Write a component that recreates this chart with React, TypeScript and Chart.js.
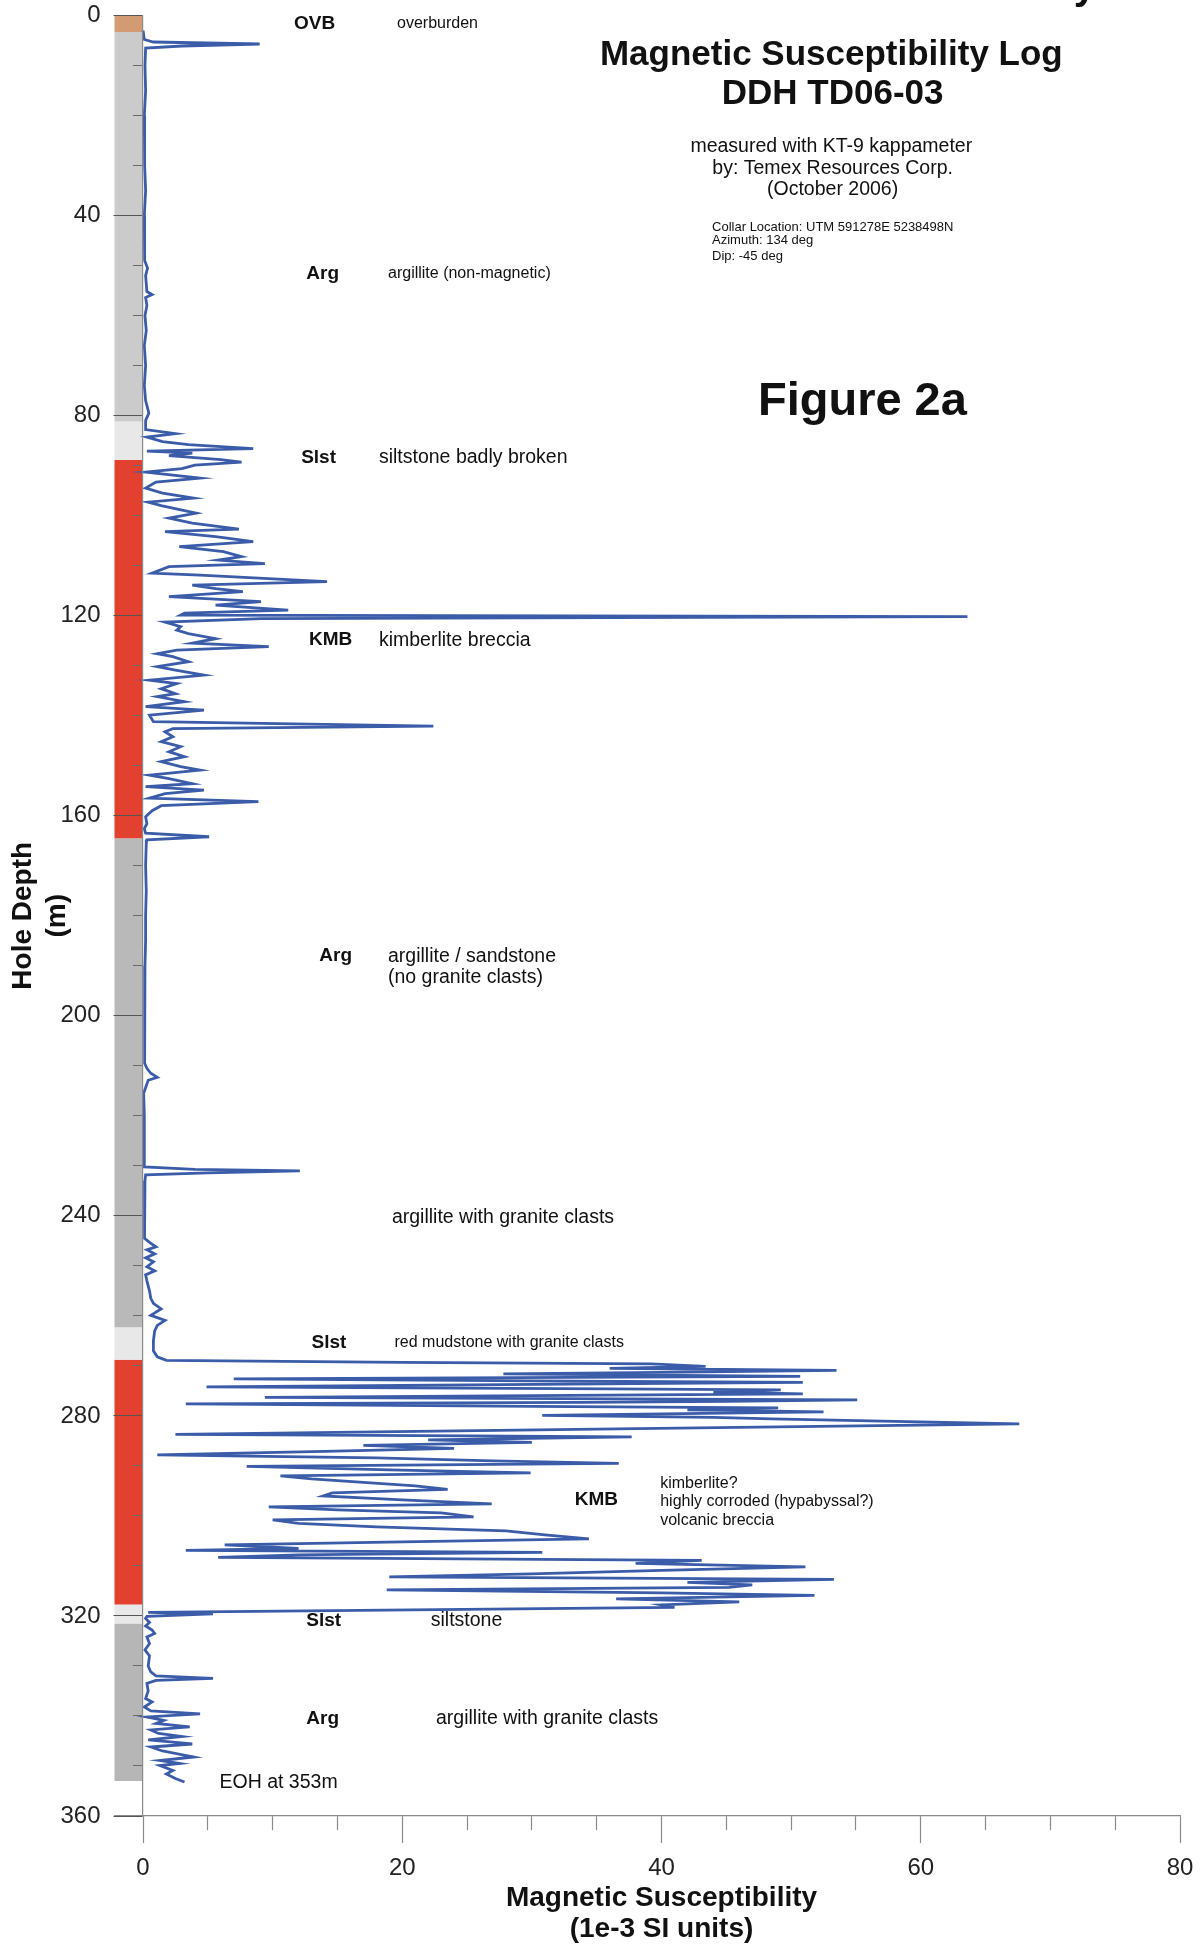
import React, { useEffect, useRef } from 'react';
import { Chart, registerables } from 'chart.js';

Chart.register(...registerables);

const FONT = "'Liberation Sans', Arial, Helvetica, sans-serif";

// ---- Magnetic susceptibility log (depth in m, value in 1e-3 SI) ----
const depthM: number[] = [
  3.0, 4.8, 5.3, 5.7, 6.1, 6.5, 10, 15, 20, 25, 30, 35, 40, 45, 49, 50.5, 52, 55.2, 55.8, 56.4,
  58, 60, 63, 66, 70, 74, 77, 79.5, 81, 82.8,
  83.6, 84.3, 85.2, 85.8, 86.6, 87.1, 87.5, 88.0, 88.8, 89.3, 89.9, 90.6, 91.3, 92.5, 93.3, 94.5,
  95.5, 96.5, 97.3, 98.0, 99.5, 100.5, 101.5, 102.7, 103.2, 104.2, 105.2, 106.2, 107.2, 108.2,
  108.9, 109.6, 110.2, 111.5, 111.9, 113.2, 113.9, 114.6, 115.2, 116.2, 117.2, 117.9, 118.9,
  119.5, 119.9, 120.2, 120.6, 121.3, 122.2, 122.9, 123.6, 124.6, 125.5, 126.2, 126.9, 127.6,
  128.2, 129.2, 130.2, 130.9, 131.9, 132.9, 133.6, 134.6, 135.6, 136.2, 137.2, 138.2, 138.9,
  139.9, 141.2, 142.1, 142.6, 143.2, 144.2, 145.2, 146.2, 147.2, 148.2, 149.2, 150.2, 150.9,
  151.9, 152.6, 153.6, 154.2, 154.9, 155.6, 156.5, 157.2, 158.0, 159.0, 160.2, 161.6, 162.6,
  163.5, 164.2, 164.8,
  165.5, 170, 175, 180, 185, 190, 195, 200, 205, 209.5, 210.5, 211.5, 212.3, 212.9, 214, 215.5,
  220, 225, 230.2, 230.7, 231.0, 231.4, 231.8, 233, 236, 240, 244.5, 245.3, 246.2, 246.8, 247.6,
  248.4, 249.2, 250.2, 251, 251.8, 253, 255, 256.5, 257.5, 258.6, 259.9, 260.9, 261.9, 263, 265,
  267, 268.2, 268.9,
  269.3, 269.6, 270.1, 270.5, 270.9, 271.3, 271.6, 272.1, 272.6, 273.0, 273.3, 273.9, 274.2,
  274.6, 274.8, 275.2, 275.6, 276.3, 276.8, 277.1, 277.3, 277.6, 278.1, 278.4, 278.8, 279.2,
  279.9, 280.3, 280.6, 281.1, 281.6, 283.7, 284.0, 284.2, 284.8, 285.3, 285.9,
  286.5, 287.1, 287.8, 288.4, 289.0, 289.5, 290.1, 290.8, 291.4, 292.0, 292.6, 293.3, 294.0,
  294.7, 295.4, 296.0, 296.8, 297.6, 298.2, 298.8, 299.4, 300.2, 300.8, 301.5, 302.2, 303.0,
  303.8, 304.6, 305.2, 305.8, 306.5, 306.9, 307.3, 307.8, 308.3, 308.9, 309.5, 310.2, 310.9,
  311.6, 312.2, 312.7, 313.3, 313.8, 314.3, 314.8, 315.4, 315.9, 316.6, 317.2, 317.8, 318.3,
  319.3, 319.6, 320.1,
  320.5, 321.3, 322.0, 322.8, 323.5, 324.2, 325.5, 326.8, 328.0, 330.0, 331.2, 332.0, 332.5,
  332.9, 333.5, 335.0, 336.5, 337.2, 338.2, 339.0, 339.6, 340.2, 340.9, 341.5, 342.2, 342.8,
  343.5, 344.1, 344.8, 345.6, 346.2, 347.0, 348.2, 348.9, 349.5, 349.9, 350.9, 351.6, 352.5, 353.2,
];

const susceptibility: number[] = [
  0.0, 0.1, 0.8, 9.0, 3.0, 0.2, 0.15, 0.2, 0.1, 0.15, 0.1, 0.2, 0.1, 0.15, 0.1, 0.35, 0.2, 0.3, 0.7, 0.2,
  0.3, 0.15, 0.25, 0.1, 0.2, 0.1, 0.2, 0.45, 0.2, 0.2,
  2.5, 0.3, 1.5, 3.5, 8.5, 0.3, 3.8, 2.0, 6.0, 7.6, 4.0, 3.0, 0.2, 4.4, 1.0, 0.2,
  1.5, 3.9, 0.4, 1.4, 4.1, 2.0, 3.8, 7.4, 1.7, 5.6, 8.5, 2.8, 6.2, 7.6,
  5.8, 9.4, 2.0, 0.7, 4.4, 14.2, 3.8, 5.6, 7.7, 2.0, 9.1, 5.6, 11.2,
  3.2, 2.9, 63.6, 9.1, 1.7, 2.9, 2.6, 3.5, 5.6, 3.8, 9.7, 2.6, 1.1,
  2.3, 3.5, 1.1, 2.5, 4.7, 0.5, 2.6, 1.4, 2.5, 1.1, 3.2, 0.2, 4.7,
  0.5, 0.8, 22.4, 2.3, 1.7, 2.3, 1.4, 2.9, 2.0, 3.2, 1.4, 2.9, 4.4,
  0.5, 2.0, 3.8, 0.2, 4.7, 1.7, 0.5, 8.9, 1.4, 0.7, 0.2, 0.3, 0.1,
  0.2, 5.1, 0.3,
  0.25, 0.2, 0.25, 0.2, 0.2, 0.15, 0.15, 0.1, 0.15, 0.1, 0.3, 0.6, 1.1, 0.4, 0.25, 0.05,
  0.1, 0.1, 0.1, 4.0, 12.1, 5.0, 0.2, 0.15, 0.1, 0.15, 0.1, 0.5, 1.0, 0.3, 0.9,
  0.2, 0.8, 0.3, 0.9, 0.2, 0.3, 0.5, 0.6, 0.8, 1.4, 0.6, 1.7, 1.1, 0.9, 0.8,
  0.8, 1.1, 1.8,
  20.0, 39.2, 43.4, 36.0, 53.5, 40.0, 27.8, 50.7, 7.0, 30.0, 50.9, 20.0, 4.9,
  36.0, 49.2, 44.0, 50.9, 9.4, 55.1, 45.0, 33.9, 3.3, 30.0, 49.0, 42.0, 52.5,
  30.8, 44.0, 48.5, 58.0, 67.6, 2.5, 25.0, 37.7, 22.0, 30.0, 17.0,
  24.0, 14.0, 1.1, 18.0, 27.0, 36.7, 8.0, 19.0, 29.9, 10.6, 13.0, 17.0, 21.0,
  23.5, 14.6, 13.9, 20.0, 26.9, 9.7, 15.0, 23.0, 25.5, 10.0, 12.0, 18.0, 28.0,
  31.0, 34.4, 20.0, 6.3, 12.0, 3.3, 30.8, 12.0, 5.8, 43.1, 38.0, 51.1, 40.0,
  30.0, 19.0, 53.3, 42.0, 47.0, 45.2, 18.8, 40.0, 51.8, 36.5, 46.0, 40.0, 41.0,
  0.4, 5.4, 0.3,
  0.2, 0.5, 0.2, 0.7, 0.9, 0.3, 0.5, 0.15, 0.5, 0.4, 0.6, 1.0, 5.4,
  1.0, 0.3, 0.4, 0.2, 0.7, 0.1, 0.6, 4.4, 0.3, 1.6, 1.0, 3.6, 0.6,
  1.2, 3.0, 0.4, 3.8, 0.6, 1.5, 3.9, 1.3, 2.8, 1.3, 2.3, 1.8, 2.5, 3.2,
];

// ---- Lithology column ----
const unitCodes: string[] = ['OVB', 'Arg', 'Slst', 'KMB', 'Arg', 'Slst', 'KMB', 'Slst', 'Arg'];
const unitTop: number[] = [0, 3.3, 81.2, 88.9, 164.5, 262.3, 268.8, 317.7, 321.5];
const unitBottom: number[] = [3.3, 81.2, 88.9, 164.5, 262.3, 268.8, 317.7, 321.5, 353];

// ---- Axis ticks ----
const xTickValues: number[] = [0, 5, 10, 15, 20, 25, 30, 35, 40, 45, 50, 55, 60, 65, 70, 75, 80];
const xLabelValues: number[] = [0, 20, 40, 60, 80];
const yLabelValues: number[] = [0, 40, 80, 120, 160, 200, 240, 280, 320, 360];
const yMinorTickValues: number[] = [
  0, 10, 20, 30, 40, 50, 60, 70, 80, 90, 100, 110, 120, 130, 140, 150, 160, 170, 180, 190,
  200, 210, 220, 230, 240, 250, 260, 270, 280, 290, 300, 310, 320, 330, 340, 350, 360,
];

// ---- styles (kept apart from data) ----
const columnLeft = -2.2;
const columnFill: string[] = [
  '#d29b74', '#cbcbcb', '#e8e8e8', '#e1412e', '#b9b9b9', '#e8e8e8', '#e1412e', '#e8e8e8', '#b6b6b6',
];
const LOG_COLOR = '#3b5ca8';

type Note = { text: string; x: number; y: number; size: number; bold?: boolean; align?: CanvasTextAlign; base?: CanvasTextBaseline };

const notes: Note[] = [
  { text: 'OVB', x: 11.65, y: 1.7, size: 19, bold: true },
  { text: 'overburden', x: 19.6, y: 1.7, size: 16 },
  { text: 'Arg', x: 12.6, y: 51.7, size: 19, bold: true },
  { text: 'argillite (non-magnetic)', x: 18.9, y: 51.7, size: 16 },
  { text: 'Slst', x: 12.2, y: 88.5, size: 19, bold: true },
  { text: 'siltstone badly broken', x: 18.2, y: 88.5, size: 19.5 },
  { text: 'KMB', x: 12.8, y: 124.9, size: 19, bold: true },
  { text: 'kimberlite breccia', x: 18.2, y: 124.9, size: 19.5 },
  { text: 'Arg', x: 13.6, y: 188.1, size: 19, bold: true },
  { text: 'argillite / sandstone', x: 18.9, y: 188.1, size: 19.5 },
  { text: '(no granite clasts)', x: 18.9, y: 192.3, size: 19.5 },
  { text: 'argillite with granite clasts', x: 19.2, y: 240.4, size: 19.5 },
  { text: 'Slst', x: 13.0, y: 265.4, size: 19, bold: true },
  { text: 'red mudstone with granite clasts', x: 19.4, y: 265.4, size: 16 },
  { text: 'KMB', x: 33.3, y: 296.7, size: 19, bold: true },
  { text: 'kimberlite?', x: 39.9, y: 293.5, size: 16 },
  { text: 'highly corroded (hypabyssal?)', x: 39.9, y: 297.2, size: 16 },
  { text: 'volcanic breccia', x: 39.9, y: 300.9, size: 16 },
  { text: 'Slst', x: 12.6, y: 321.0, size: 19, bold: true },
  { text: 'siltstone', x: 22.2, y: 321.0, size: 19.5 },
  { text: 'Arg', x: 12.6, y: 340.5, size: 19, bold: true },
  { text: 'argillite with granite clasts', x: 22.6, y: 340.5, size: 19.5 },
  { text: 'EOH at 353m', x: 5.9, y: 353.3, size: 19.5 },
  { text: 'Magnetic Susceptibility Log', x: 53.1, y: 7.9, size: 35, bold: true, align: 'center' },
  { text: 'DDH TD06-03', x: 53.2, y: 15.7, size: 35, bold: true, align: 'center' },
  { text: 'measured with KT-9 kappameter', x: 53.1, y: 26.2, size: 19.5, align: 'center' },
  { text: 'by: Temex Resources Corp.', x: 53.2, y: 30.6, size: 19.5, align: 'center' },
  { text: '(October 2006)', x: 53.2, y: 34.9, size: 19.5, align: 'center' },
  { text: 'Collar Location: UTM 591278E 5238498N', x: 43.9, y: 42.4, size: 13 },
  { text: 'Azimuth: 134 deg', x: 43.9, y: 45.0, size: 13 },
  { text: 'Dip: -45 deg', x: 43.9, y: 48.1, size: 13 },
  { text: 'Figure 2a', x: 55.5, y: 77.2, size: 47, bold: true, align: 'center' },
  { text: 'y', x: 71.8, y: -3.3, size: 40, bold: true, base: 'alphabetic' },
  { text: 'Magnetic Susceptibility', x: 40, y: 376.5, size: 28, bold: true, align: 'center' },
  { text: '(1e-3 SI units)', x: 40, y: 382.7, size: 28, bold: true, align: 'center' },
];

const notesPlugin = {
  id: 'logNotes',
  afterDraw(chart: any) {
    const { ctx } = chart;
    const xs = chart.scales.x;
    const ys = chart.scales.y;
    ctx.save();
    ctx.fillStyle = '#111';
    for (const n of notes) {
      ctx.font = `${n.bold ? 'bold ' : ''}${n.size}px ${FONT}`;
      ctx.textAlign = n.align || 'left';
      ctx.textBaseline = n.base || 'middle';
      ctx.fillText(n.text, xs.getPixelForValue(n.x), ys.getPixelForValue(n.y));
    }
    ctx.restore();
  },
};

export default function App() {
  const canvasRef = useRef<HTMLCanvasElement | null>(null);

  useEffect(() => {
    const canvas = canvasRef.current;
    if (!canvas) return;

    const colMid = columnLeft / 2;
    const columnWidth = (ctx: any) => {
      const s = ctx.chart.scales.x;
      if (!s || !isFinite(s.getPixelForValue(0))) return 28.5;
      return Math.abs(s.getPixelForValue(0) - s.getPixelForValue(columnLeft));
    };

    const columnSets = unitCodes.map((code, i) => ({
      label: code,
      data: [
        { x: colMid, y: unitTop[i] },
        { x: colMid, y: unitBottom[i] },
      ],
      showLine: true,
      borderColor: columnFill[i],
      backgroundColor: columnFill[i],
      borderWidth: columnWidth,
      borderCapStyle: 'butt' as const,
      pointRadius: 0,
      clip: false as const,
      order: 2,
    }));

    const logSet = {
      label: 'Magnetic susceptibility',
      data: depthM.map((d, i) => ({ x: susceptibility[i], y: d })),
      showLine: true,
      borderColor: LOG_COLOR,
      backgroundColor: LOG_COLOR,
      borderWidth: 2.8,
      pointRadius: 0,
      tension: 0,
      order: 1,
    };

    const chart = new Chart(canvas, {
      type: 'scatter',
      data: { datasets: [...columnSets, logSet] as any },
      options: {
        animation: false,
        responsive: false,
        events: [],
        layout: { padding: { top: 15.5, right: 22, bottom: 0, left: 0 } },
        plugins: { legend: { display: false }, tooltip: { enabled: false } },
        scales: {
          x: {
            type: 'linear',
            min: columnLeft,
            max: 80,
            position: 'bottom',
            afterFit: (s: any) => {
              s.height = 129;
              s.paddingLeft = 0;
              s.paddingRight = 0;
            },
            afterBuildTicks: (s: any) => { s.ticks = xTickValues.map((v) => ({ value: v })); },
            ticks: {
              autoSkip: false,
              maxRotation: 0,
              padding: 10.6,
              color: '#222',
              font: { family: FONT, size: 24 },
              callback: (v: any) => (xLabelValues.includes(Number(v)) ? String(v) : ''),
            },
            grid: {
              drawOnChartArea: false,
              drawTicks: true,
              tickLength: 27,
              tickColor: '#8a8a8a',
              tickWidth: 1.2,
              tickBorderDash: (ctx: any) => (ctx.tick && xLabelValues.includes(ctx.tick.value) ? [] : [14, 60]),
            },
            border: { display: true, color: '#8a8a8a', width: 1.2 },
          },
          y: {
            type: 'linear',
            min: 0,
            max: 360,
            reverse: true,
            position: 'left',
            afterFit: (s: any) => {
              s.width = 114.5;
              s.paddingTop = 0;
              s.paddingBottom = 0;
            },
            afterBuildTicks: (s: any) => { s.ticks = yLabelValues.map((v) => ({ value: v })); },
            ticks: { autoSkip: false, padding: 14, color: '#222', font: { family: FONT, size: 24 } },
            grid: { display: false, drawTicks: false },
            border: { display: false },
            title: {
              display: true,
              text: ['Hole Depth', '(m)'],
              color: '#111',
              font: { family: FONT, size: 28, weight: 'bold', lineHeight: 1.2 },
              padding: { top: 6.7, bottom: 0 },
            },
          },
          yTicks: {
            type: 'linear',
            min: 0,
            max: 360,
            reverse: true,
            position: { x: 0 } as any,
            afterFit: (s: any) => {
              s.paddingTop = 0;
              s.paddingBottom = 0;
            },
            afterBuildTicks: (s: any) => { s.ticks = yMinorTickValues.map((v) => ({ value: v })); },
            ticks: { display: false },
            grid: {
              drawOnChartArea: false,
              drawTicks: true,
              tickLength: 28.5,
              tickWidth: 1,
              tickColor: (ctx: any) => (ctx.tick && yLabelValues.includes(ctx.tick.value) ? '#555' : '#6a6a6a'),
              tickBorderDash: (ctx: any) => (ctx.tick && yLabelValues.includes(ctx.tick.value) ? [] : [9, 60]),
              z: 1,
            },
            border: { display: true, color: '#8a8a8a', width: 1.2, z: 1 },
          },
        } as any,
      },
      plugins: [notesPlugin],
    });

    return () => chart.destroy();
  }, []);

  return (
    <div style={{ position: 'absolute', left: 0, top: 0, width: 1202, height: 1945, background: '#fff' }}>
      <canvas ref={canvasRef} width={1202} height={1945} style={{ display: 'block' }} />
    </div>
  );
}
